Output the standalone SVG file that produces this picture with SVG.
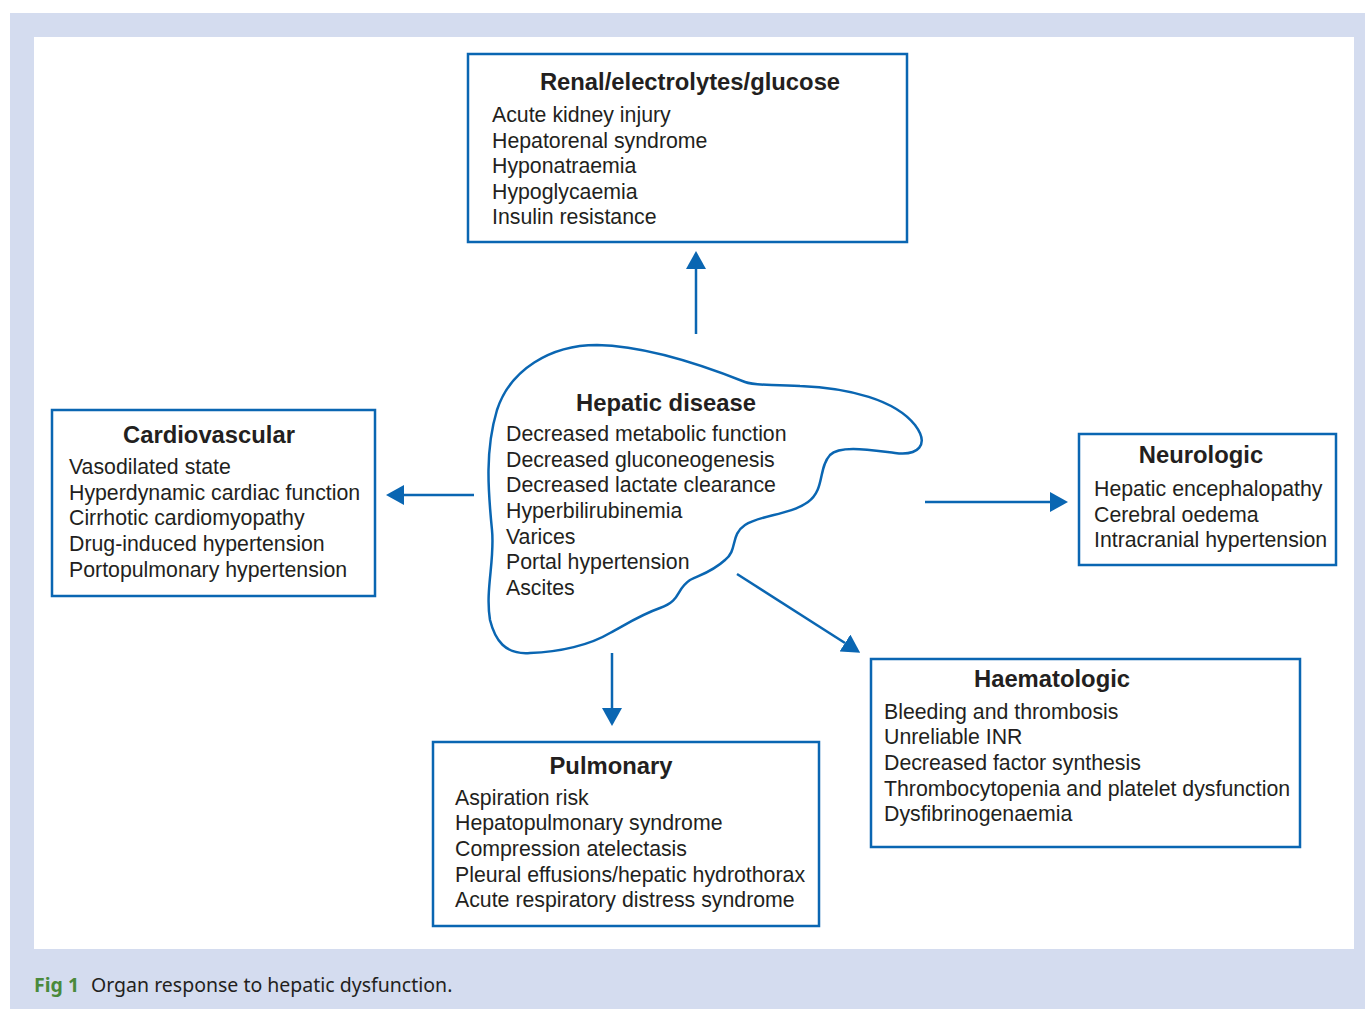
<svg xmlns="http://www.w3.org/2000/svg" width="1365" height="1009" viewBox="0 0 1365 1009">
<style>
.box{fill:#fff;stroke:#0a66b2;stroke-width:2.5}
.liver{fill:#fff;stroke:#0a66b2;stroke-width:2.5}
.t{font-family:"Liberation Sans",Arial,sans-serif;font-size:23.8px;font-weight:bold;fill:#231f20;text-anchor:middle}
.b{font-family:"Liberation Sans",Arial,sans-serif;font-size:21.3px;fill:#231f20}
.ln{stroke:#0a66b2;stroke-width:2.5;fill:none}
.cap{font-family:"Noto Sans","Open Sans",sans-serif;font-size:19.5px;fill:#231f20}
</style>
<defs>
<marker id="ah" viewBox="0 0 18 20" refX="0" refY="10" markerWidth="18" markerHeight="20" markerUnits="userSpaceOnUse" orient="auto">
<path d="M0,0 L18,10 L0,20 Z" fill="#0a66b2"/>
</marker>
</defs>
<rect x="10" y="13" width="1355" height="996" fill="#d4dcef"/>
<rect x="34" y="37" width="1320" height="912" fill="#fff"/>

<g id="connectors">
<line class="ln" x1="696" y1="334" x2="696" y2="269" marker-end="url(#ah)"/>
<line class="ln" x1="474" y1="495" x2="404" y2="495" marker-end="url(#ah)"/>
<line class="ln" x1="925" y1="502" x2="1050" y2="502" marker-end="url(#ah)"/>
<line class="ln" x1="612" y1="653" x2="612" y2="708" marker-end="url(#ah)"/>
<line class="ln" x1="737" y1="574" x2="845" y2="643" marker-end="url(#ah)"/>
</g>

<g id="hepatic">
<path class="liver" d="M 597,345 C 650,346 710,368 745,382 C 755,386 770,384 800,386 C 850,388 895,400 915,425 C 930,445 918,456 895,453 C 870,450 840,445 830,455 C 818,468 825,490 808,502 C 790,515 760,515 745,525 C 730,535 738,550 725,560 C 712,572 700,575 690,580 C 675,590 682,600 660,608 C 640,615 625,625 610,633 C 590,645 560,652 530,653 C 505,655 495,640 490,620 C 485,590 495,560 492,530 C 488,490 485,450 497,410 C 510,370 550,345 597,345 Z"/>
<text class="t" x="666" y="411">Hepatic disease</text>
<text class="b" x="506" y="441">Decreased metabolic function</text>
<text class="b" x="506" y="467">Decreased gluconeogenesis</text>
<text class="b" x="506" y="492">Decreased lactate clearance</text>
<text class="b" x="506" y="518">Hyperbilirubinemia</text>
<text class="b" x="506" y="544">Varices</text>
<text class="b" x="506" y="569">Portal hypertension</text>
<text class="b" x="506" y="595">Ascites</text>
</g>

<g id="renal">
<rect class="box" x="468" y="54" width="439" height="188"/>
<text class="t" x="690" y="90">Renal/electrolytes/glucose</text>
<text class="b" x="492" y="122">Acute kidney injury</text>
<text class="b" x="492" y="148">Hepatorenal syndrome</text>
<text class="b" x="492" y="173">Hyponatraemia</text>
<text class="b" x="492" y="199">Hypoglycaemia</text>
<text class="b" x="492" y="224">Insulin resistance</text>
</g>

<g id="cardiovascular">
<rect class="box" x="52" y="410" width="323" height="186"/>
<text class="t" x="209" y="443">Cardiovascular</text>
<text class="b" x="69" y="474">Vasodilated state</text>
<text class="b" x="69" y="500">Hyperdynamic cardiac function</text>
<text class="b" x="69" y="525">Cirrhotic cardiomyopathy</text>
<text class="b" x="69" y="551">Drug-induced hypertension</text>
<text class="b" x="69" y="577">Portopulmonary hypertension</text>
</g>

<g id="neurologic">
<rect class="box" x="1079" y="434" width="257" height="131"/>
<text class="t" x="1201" y="463">Neurologic</text>
<text class="b" x="1094" y="496">Hepatic encephalopathy</text>
<text class="b" x="1094" y="522">Cerebral oedema</text>
<text class="b" x="1094" y="547">Intracranial hypertension</text>
</g>

<g id="haematologic">
<rect class="box" x="871" y="659" width="429" height="188"/>
<text class="t" x="1052" y="687">Haematologic</text>
<text class="b" x="884" y="719">Bleeding and thrombosis</text>
<text class="b" x="884" y="744">Unreliable INR</text>
<text class="b" x="884" y="770">Decreased factor synthesis</text>
<text class="b" x="884" y="796">Thrombocytopenia and platelet dysfunction</text>
<text class="b" x="884" y="821">Dysfibrinogenaemia</text>
</g>

<g id="pulmonary">
<rect class="box" x="433" y="742" width="386" height="184"/>
<text class="t" x="611" y="774">Pulmonary</text>
<text class="b" x="455" y="805">Aspiration risk</text>
<text class="b" x="455" y="830">Hepatopulmonary syndrome</text>
<text class="b" x="455" y="856">Compression atelectasis</text>
<text class="b" x="455" y="882">Pleural effusions/hepatic hydrothorax</text>
<text class="b" x="455" y="907">Acute respiratory distress syndrome</text>
</g>

<text class="cap" x="34" y="992"><tspan font-weight="bold" fill="#4a8a3c">Fig 1</tspan><tspan x="91">Organ response to hepatic dysfunction.</tspan></text>
</svg>
